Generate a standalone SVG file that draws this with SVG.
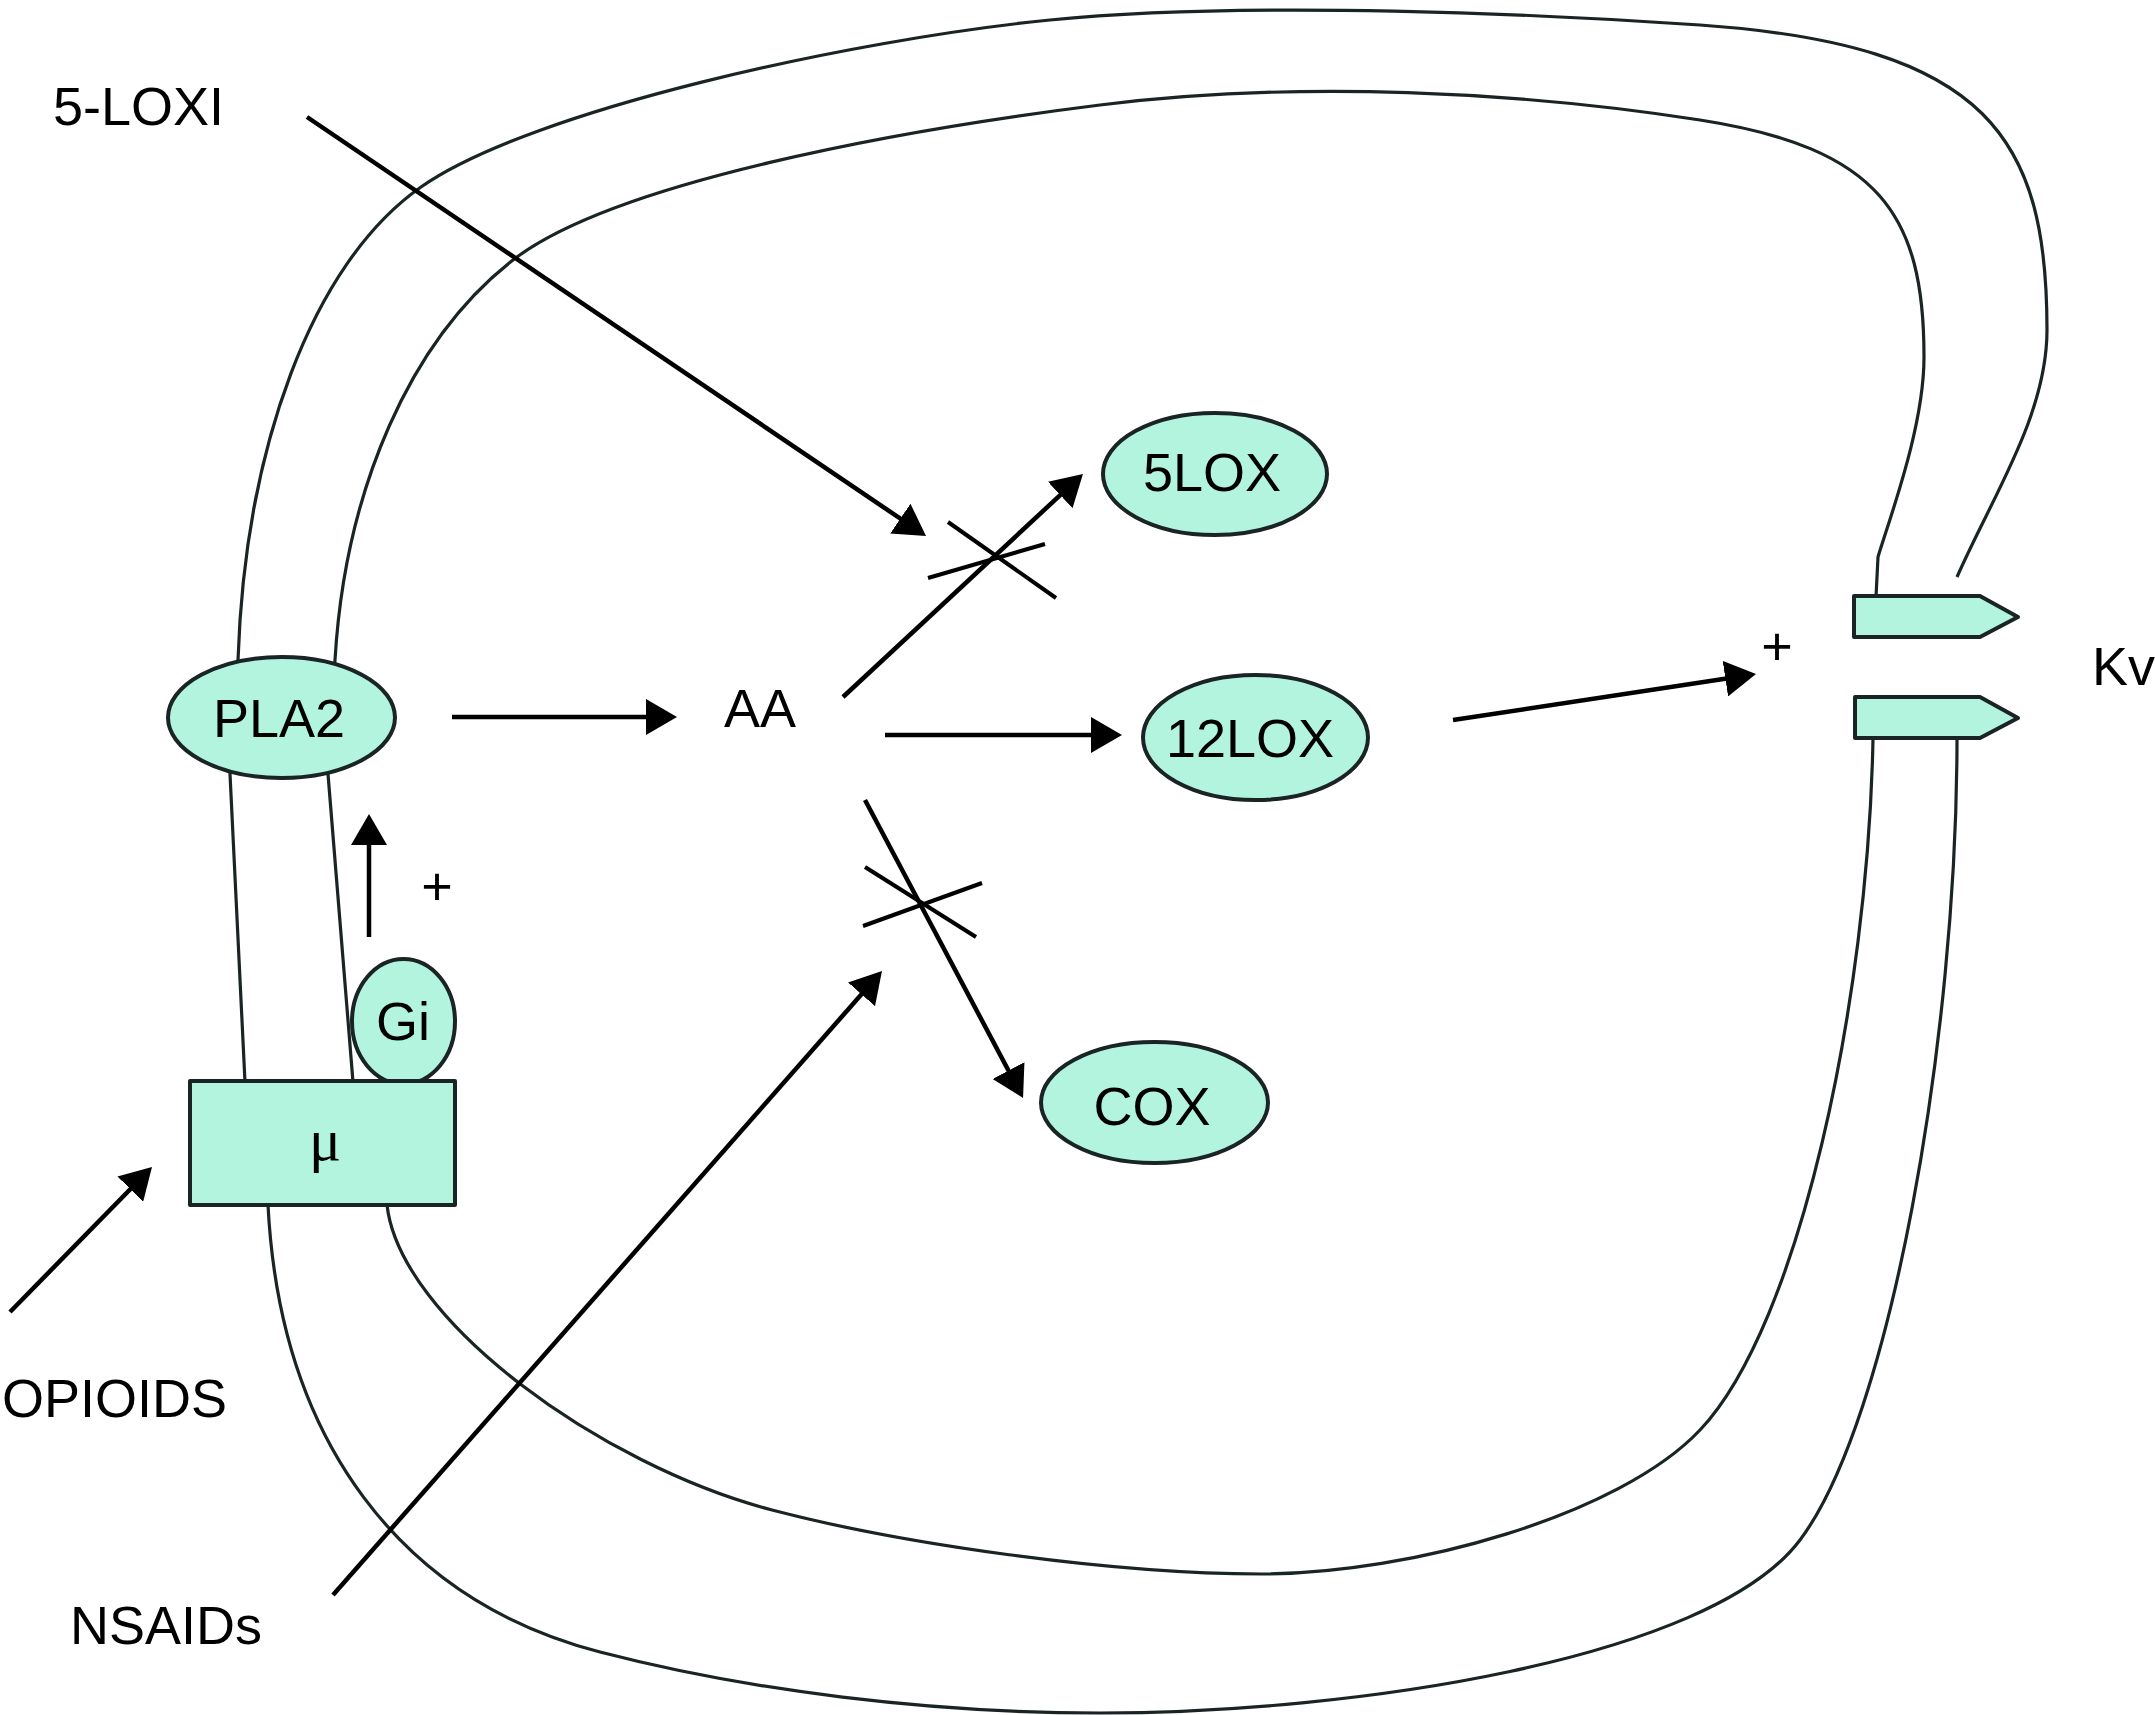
<svg xmlns="http://www.w3.org/2000/svg" width="2155" height="1715" viewBox="0 0 2155 1715">
<defs>
<style>
.mem{fill:none;stroke:#1a2424;stroke-width:3.2;stroke-linejoin:round}
.node{fill:#b3f4df;stroke:#1a2424;stroke-width:4;stroke-linejoin:round}
.arr{fill:none;stroke:#000;stroke-width:4.5;marker-end:url(#ah)}
.x{stroke:#000;stroke-width:4}
.t{font-family:"Liberation Sans",Arial,sans-serif;font-size:54px;fill:#000}
.c{text-anchor:middle}
</style>
<marker id="ah" markerUnits="userSpaceOnUse" markerWidth="31" markerHeight="36" refX="23" refY="18" orient="auto"><path d="M0,0 L31,18 L0,36 Z" fill="#000"/></marker>
</defs>
<rect width="2155" height="1715" fill="#fff"/>
<g id="membrane">
<path class="mem" d="M1957,577 C1992,497 2047,415 2047,330 C2047,140 1990,45 1700,25 C1550,14.7 1250,0 1050,20 C850,40 531,110 421,187 C311,264 245,450 238,660 L230,774 L245,1082 L268,1205 C280,1440 400,1600 600,1652 C750,1691 930,1713 1100,1713 C1350,1713 1710,1660 1800,1540 C1890,1420 1957,1039 1957,739"/>
<path class="mem" d="M1876,597 L1878,557 C1890,517 1924,427 1924,357 C1924,215 1880,148 1700,120 C1520,92 1300,80 1100,105 C900,130 613,182 513,260 C410,340 345,490 335,660 L328,774 L353,1082 L387,1205 C400,1320 600,1465 772,1510 C902,1544 1111,1574 1261,1574 C1411,1574 1620,1515 1700,1430 C1800,1324 1868,1000 1873,739"/>
</g>
<g id="kv-channel">
<path class="node" d="M1854,596 H1980 L2018,617 L1980,637 H1854 Z"/>
<path class="node" d="M1855,697 H1980 L2018,718 L1980,738 H1855 Z"/>
<text class="t" x="2092" y="685" font-size="52">Kv</text>
</g>
<g id="pla2"><ellipse class="node" cx="281.5" cy="717.5" rx="113.5" ry="60.5"/><text class="t c" x="279" y="737">PLA2</text></g>
<g id="gi"><ellipse class="node" cx="403.5" cy="1021.5" rx="51.5" ry="62.5"/><text class="t c" x="403" y="1040">Gi</text></g>
<g id="mu"><rect class="node" x="190" y="1081" width="265" height="124"/><text x="325" y="1160" text-anchor="middle" font-family="'Liberation Serif','Times New Roman',serif" font-size="60">μ</text></g>
<g id="aa"><text class="t" x="724" y="727">AA</text></g>
<g id="lox5"><ellipse class="node" cx="1215" cy="474" rx="112" ry="61"/><text class="t c" x="1212" y="491">5LOX</text></g>
<g id="lox12"><ellipse class="node" cx="1255.5" cy="737.5" rx="112.5" ry="62.5"/><text class="t c" x="1250" y="757">12LOX</text></g>
<g id="cox"><ellipse class="node" cx="1154.5" cy="1102.5" rx="113.5" ry="60.5"/><text class="t c" x="1152" y="1125" font-size="55">COX</text></g>
<g id="labels">
<text class="t" x="53" y="125">5-LOXI</text>
<text class="t" x="2" y="1417" font-size="55">OPIOIDS</text>
<text class="t" x="70" y="1644" font-size="55">NSAIDs</text>
<text class="t c" x="437" y="905" font-size="56">+</text>
<text class="t c" x="1777" y="665" font-size="56">+</text>
</g>
<g id="connectors">
<line class="arr" x1="307" y1="117" x2="919.4" y2="531.5"/>
<line class="arr" x1="452" y1="717" x2="669" y2="717"/>
<line class="arr" x1="843" y1="697" x2="1077.1" y2="479.4"/>
<line class="arr" x1="885" y1="735" x2="1114" y2="735"/>
<line class="arr" x1="865" y1="800" x2="1019.3" y2="1090.9"/>
<line class="arr" x1="333" y1="1595" x2="876.7" y2="977"/>
<line class="arr" x1="10" y1="1312" x2="146.4" y2="1172.7"/>
<line class="arr" x1="369" y1="937" x2="369" y2="822"/>
<line class="arr" x1="1453" y1="720" x2="1748.1" y2="675.2"/>
<line class="x" x1="948" y1="522" x2="1056" y2="598"/>
<line class="x" x1="928" y1="578" x2="1045" y2="544"/>
<line class="x" x1="865" y1="867" x2="976" y2="937"/>
<line class="x" x1="863" y1="926" x2="982" y2="883"/>
</g>
</svg>
